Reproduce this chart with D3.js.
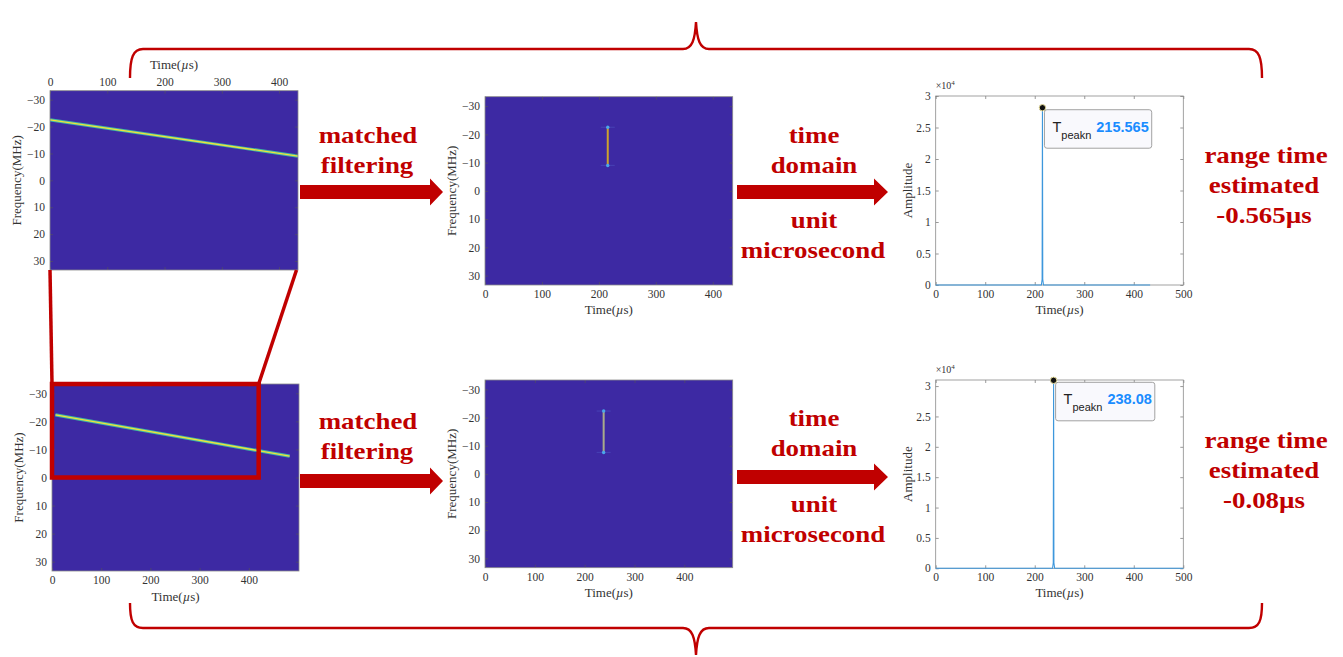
<!DOCTYPE html>
<html>
<head>
<meta charset="utf-8">
<script src="https://cdn.jsdelivr.net/npm/d3@7"></script>
<style>
  body { margin: 0; background: #ffffff; }
  svg { display: block; }
</style>
</head>
<body>
<svg id="fig" width="1343" height="657"></svg>
<script>
// ---------------- data ----------------
// Received chirps (time–frequency): start/end time (µs) and start/end frequency (MHz)
const chirpStart = [0, 7];
const chirpEnd = [433, 483];
const chirpFreqStart = [-22.5, -22.3];
const chirpFreqEnd = [-9, -7.6];
// Time extent of each echo window (µs)
const echoSpan = [433, 502];
// Time extent after matched filtering (µs)
const compressedSpan = [435, 497];
const freqLimits = [-33.33, 33.33];
const freqTicks = [-30, -20, -10, 0, 10, 20, 30];
const spectroTimeTicks = [0, 100, 200, 300, 400];
// Zoom window on the second echo
const zoomWindowTime = [0, 420];
const zoomWindowFreq = [-33.33, 0];

// Time-domain peaks
const peakTimes = [215.565, 238.08];
const peakAmps = [28140, 30950];
const ampLimits = [30000, 31000];
const ampTicks = [0, 5000, 10000, 15000, 20000, 25000, 30000];
const ampTickLabels = ["0", "0.5", "1", "1.5", "2", "2.5", "3"];
const ampTimeTicks = [0, 100, 200, 300, 400, 500];
const ampTimeLimit = 500;
// Compressed pulse envelopes (time µs, amplitude)
const pulseTimes1 = [0, 213.4, 214.9, 215.565, 216.2, 217.7, 433];
const pulseAmps1 = [0, 0, 900, 28140, 900, 0, 0];
const pulseTimes2 = [0, 236.0, 237.4, 238.08, 238.7, 240.2, 500];
const pulseAmps2 = [0, 0, 900, 30950, 900, 0, 0];

// Estimated range-time offsets
const estimates = ["-0.565\u00b5s", "-0.08\u00b5s"];

// ---------------- style ----------------
const RED = "#c00000";
const BG = "#3d29a3";
const SERIF = "'Liberation Serif', 'Times New Roman', serif";
const SANS = "'Liberation Sans', Arial, sans-serif";

const svg = d3.select("#fig");

// ---------------- braces ----------------
const braceTop = d3.path();
braceTop.moveTo(130, 78);
braceTop.bezierCurveTo(130, 58, 133, 49, 143, 49);
braceTop.lineTo(683, 49);
braceTop.bezierCurveTo(692, 49, 695, 40, 696, 22);
braceTop.bezierCurveTo(697, 40, 700, 49, 709, 49);
braceTop.lineTo(1249, 49);
braceTop.bezierCurveTo(1259, 49, 1262, 58, 1262, 78);
svg.append("path").attr("d", braceTop.toString())
  .attr("fill", "none").attr("stroke", RED).attr("stroke-width", 2.4);

const braceBot = d3.path();
braceBot.moveTo(130, 603);
braceBot.bezierCurveTo(130, 621, 133, 628, 143, 628);
braceBot.lineTo(683, 628);
braceBot.bezierCurveTo(692, 628, 695, 637, 696, 655);
braceBot.bezierCurveTo(697, 637, 700, 628, 709, 628);
braceBot.lineTo(1249, 628);
braceBot.bezierCurveTo(1259, 628, 1262, 621, 1262, 603);
svg.append("path").attr("d", braceBot.toString())
  .attr("fill", "none").attr("stroke", RED).attr("stroke-width", 2.4);

// ---------------- helpers ----------------
let clipId = 0;

function styleAxis(sel, fs) {
  sel.select(".domain").remove();
  sel.selectAll("line").attr("stroke", "#555").attr("stroke-width", 0.6);
  sel.selectAll("text").attr("font-family", SERIF).attr("font-size", fs).attr("fill", "#333");
}

function timeLabel(g, cx, cy) {
  const t = g.append("text").attr("x", cx).attr("y", cy)
    .attr("text-anchor", "middle").attr("dominant-baseline", "central")
    .attr("font-family", SERIF).attr("font-size", 13).attr("fill", "#333");
  t.append("tspan").text("Time(");
  t.append("tspan").attr("font-style", "italic").text("\u00b5");
  t.append("tspan").text("s)");
}

function yLabel(g, cx, cy, str) {
  g.append("text").attr("transform", `translate(${cx},${cy}) rotate(-90)`)
    .attr("text-anchor", "middle").attr("dominant-baseline", "central")
    .attr("font-family", SERIF).attr("font-size", 13).attr("fill", "#333").text(str);
}

// MATLAB-like framed axes with inward ticks on every side
function frame(g, x, y, xTicks, yTicks, yFmt, xOnTop) {
  const [l, r] = x.range();
  const [y0, y1] = y.range();
  const t = Math.min(y0, y1), b = Math.max(y0, y1);
  const xb = g.append("g").attr("transform", `translate(0,${b})`)
    .call(d3.axisBottom(x).tickValues(xTicks).tickSizeInner(-3).tickSizeOuter(0).tickPadding(5)
      .tickFormat(xOnTop ? "" : d3.format("d")));
  styleAxis(xb, 11.5);
  const xt = g.append("g").attr("transform", `translate(0,${t})`)
    .call(d3.axisTop(x).tickValues(xTicks).tickSizeInner(-3).tickSizeOuter(0).tickPadding(5)
      .tickFormat(xOnTop ? d3.format("d") : ""));
  styleAxis(xt, 11.5);
  const yl = g.append("g").attr("transform", `translate(${l},0)`)
    .call(d3.axisLeft(y).tickValues(yTicks).tickSizeInner(-3).tickSizeOuter(0).tickPadding(5)
      .tickFormat(yFmt));
  styleAxis(yl, 11.5);
  const yr = g.append("g").attr("transform", `translate(${r},0)`)
    .call(d3.axisRight(y).tickValues(yTicks).tickSizeInner(-3).tickSizeOuter(0).tickFormat(""));
  styleAxis(yr, 11.5);
  g.append("rect").attr("x", l).attr("y", t).attr("width", r - l).attr("height", b - t)
    .attr("fill", "none").attr("stroke", "#8a8a8a").attr("stroke-width", 0.8);
}

function clipFor(g, x, y) {
  const id = "clip" + (clipId++);
  const [l, r] = x.range();
  const [ya, yb] = y.range();
  g.append("clipPath").attr("id", id).append("rect")
    .attr("x", l).attr("y", Math.min(ya, yb)).attr("width", r - l).attr("height", Math.abs(yb - ya));
  return `url(#${id})`;
}

// Spectrogram of a received chirp
function chirpPanel(box, i, xOnTop) {
  const g = svg.append("g");
  const x = d3.scaleLinear().domain([0, echoSpan[i]]).range([box.l, box.r]);
  const y = d3.scaleLinear().domain(freqLimits).range([box.t, box.b]);
  g.append("rect").attr("x", box.l).attr("y", box.t).attr("width", box.r - box.l)
    .attr("height", box.b - box.t).attr("fill", BG);
  const clip = clipFor(g, x, y);
  const pts = [[chirpStart[i], chirpFreqStart[i]], [chirpEnd[i], chirpFreqEnd[i]]];
  const line = d3.line().x(d => x(d[0])).y(d => y(d[1]));
  g.append("path").attr("d", line(pts)).attr("clip-path", clip)
    .attr("stroke", "#3fb8a6").attr("stroke-width", 3.2).attr("fill", "none");
  g.append("path").attr("d", line(pts)).attr("clip-path", clip)
    .attr("stroke", "#f0e23c").attr("stroke-width", 1.3).attr("fill", "none");
  frame(g, x, y, spectroTimeTicks, freqTicks, d3.format("d"), xOnTop);
  yLabel(g, box.l - 34, (box.t + box.b) / 2, "Frequency(MHz)");
  if (xOnTop) {
    timeLabel(g, (box.l + box.r) / 2, box.t - 27);
  } else {
    timeLabel(g, (box.l + box.r) / 2, box.b + 25);
  }
  return { x, y };
}

// Spectrogram after matched filtering
function compressedPanel(box, i, color) {
  const g = svg.append("g");
  const x = d3.scaleLinear().domain([0, compressedSpan[i]]).range([box.l, box.r]);
  const y = d3.scaleLinear().domain(freqLimits).range([box.t, box.b]);
  g.append("rect").attr("x", box.l).attr("y", box.t).attr("width", box.r - box.l)
    .attr("height", box.b - box.t).attr("fill", BG);
  const px = x(peakTimes[i]);
  [chirpFreqStart[i], chirpFreqEnd[i]].forEach(f => {
    g.append("line").attr("x1", px - 7).attr("x2", px + 7).attr("y1", y(f)).attr("y2", y(f))
      .attr("stroke", "#5a6fd6").attr("stroke-width", 1.2).attr("opacity", 0.3);
  });
  g.append("line").attr("x1", px).attr("x2", px)
    .attr("y1", y(chirpFreqStart[i])).attr("y2", y(chirpFreqEnd[i]))
    .attr("stroke", color).attr("stroke-width", 2);
  [chirpFreqStart[i], chirpFreqEnd[i]].forEach(f => {
    g.append("circle").attr("cx", px).attr("cy", y(f)).attr("r", 1.7).attr("fill", "#4aa6ea");
  });
  frame(g, x, y, spectroTimeTicks, freqTicks, d3.format("d"), false);
  yLabel(g, box.l - 34, (box.t + box.b) / 2, "Frequency(MHz)");
  timeLabel(g, (box.l + box.r) / 2, box.b + 24);
}

// Time-domain amplitude with a data tip on the peak
function amplitudePanel(box, i, times, amps) {
  const g = svg.append("g");
  const x = d3.scaleLinear().domain([0, ampTimeLimit]).range([box.l, box.r]);
  const y = d3.scaleLinear().domain([0, ampLimits[i]]).range([box.b, box.t]);
  g.append("rect").attr("x", box.l).attr("y", box.t).attr("width", box.r - box.l)
    .attr("height", box.b - box.t).attr("fill", "#ffffff");
  frame(g, x, y, ampTimeTicks, ampTicks, (d, k) => ampTickLabels[k], false);
  const pts = times.map((t, k) => [t, amps[k]]);
  g.append("path").attr("d", d3.line().x(d => x(d[0])).y(d => y(d[1]))(pts))
    .attr("fill", "none").attr("stroke", "#3d97dc").attr("stroke-width", 1.1);
  yLabel(g, box.l - 28.5, (box.t + box.b) / 2, "Amplitude");
  timeLabel(g, (box.l + box.r) / 2, box.b + 24);
  // exponent note
  const ex = g.append("text").attr("x", box.l).attr("y", box.t - 7)
    .attr("font-family", SERIF).attr("font-size", 10).attr("fill", "#333");
  ex.append("tspan").text("\u00d710");
  ex.append("tspan").attr("font-size", 7).attr("dy", -4).text("4");

  // data tip
  const px = x(peakTimes[i]), py = y(peakAmps[i]);
  const tip = g.append("g");
  const bx = px + 2, by = py + 2, bh = 38.5;
  const rect = tip.append("rect").attr("x", bx).attr("y", by).attr("height", bh)
    .attr("rx", 2.5).attr("fill", "#f9f9fd").attr("stroke", "#a2a2a2").attr("stroke-width", 1);
  const txt = tip.append("text").attr("x", bx + 8).attr("y", by + 22)
    .attr("font-family", SANS).attr("font-size", 14.5).attr("fill", "#222");
  txt.append("tspan").text("T");
  txt.append("tspan").attr("font-size", 11).attr("dy", 7).text("peakn");
  txt.append("tspan").attr("dy", -7).attr("dx", 5).attr("font-weight", "bold")
    .attr("fill", "#1a8cff").text(String(peakTimes[i]));
  const w = txt.node().getComputedTextLength();
  rect.attr("width", w + 16);
  g.append("circle").attr("cx", px).attr("cy", py).attr("r", 3.2)
    .attr("fill", "#111").attr("stroke", "#e6dc9c").attr("stroke-width", 1);
}

// ---------------- panels ----------------
const p1 = { l: 50, r: 298, t: 90.7, b: 270 };
const p2 = { l: 52, r: 299, t: 384, b: 571 };
const p3 = { l: 485, r: 732.7, t: 96.7, b: 285 };
const p4 = { l: 485, r: 732.7, t: 380, b: 567.7 };
const p5 = { l: 935.7, r: 1183.3, t: 96, b: 285 };
const p6 = { l: 935.7, r: 1183.3, t: 380, b: 568.3 };

const s1 = chirpPanel(p1, 0, true);
const s2 = chirpPanel(p2, 1, false);
compressedPanel(p3, 0, "#cda22c");
compressedPanel(p4, 1, "#a9aa8a");
amplitudePanel(p5, 0, pulseTimes1, pulseAmps1);
amplitudePanel(p6, 1, pulseTimes2, pulseAmps2);

// Zoom window on the second echo and its link to the first
const zx0 = s2.x(zoomWindowTime[0]), zx1 = s2.x(zoomWindowTime[1]);
const zy0 = s2.y(zoomWindowFreq[0]), zy1 = s2.y(zoomWindowFreq[1]);
svg.append("rect").attr("x", zx0).attr("y", zy0).attr("width", zx1 - zx0).attr("height", zy1 - zy0)
  .attr("fill", "none").attr("stroke", RED).attr("stroke-width", 4.5);
svg.append("line").attr("x1", s1.x(0)).attr("y1", s1.y(freqLimits[1]))
  .attr("x2", zx0).attr("y2", zy0).attr("stroke", RED).attr("stroke-width", 3.5);
svg.append("line").attr("x1", s1.x(echoSpan[0]) - 1.5).attr("y1", s1.y(freqLimits[1]))
  .attr("x2", zx1).attr("y2", zy0).attr("stroke", RED).attr("stroke-width", 3.5);

// ---------------- arrows and captions ----------------
function arrow(x0, headStart, tip, cy) {
  const p = d3.path();
  p.moveTo(x0, cy - 7); p.lineTo(headStart, cy - 7); p.lineTo(headStart, cy - 13.5);
  p.lineTo(tip, cy); p.lineTo(headStart, cy + 13.5); p.lineTo(headStart, cy + 7);
  p.lineTo(x0, cy + 7); p.closePath();
  svg.append("path").attr("d", p.toString()).attr("fill", RED);
}

function caption(cx, baseline, str) {
  const t = svg.append("text").attr("x", cx).attr("y", baseline).attr("text-anchor", "middle")
    .attr("font-family", SERIF).attr("font-weight", "bold").attr("font-size", 24)
    .attr("fill", RED).text(str);
  const w = t.node().getComputedTextLength();
  t.attr("textLength", w * 1.12).attr("lengthAdjust", "spacingAndGlyphs");
}

arrow(300, 430, 443, 192);
arrow(737, 874, 888, 192);
arrow(300, 430, 443, 481);
arrow(737, 874, 888, 477);

caption(368, 143, "matched");
caption(367, 173, "filtering");
caption(368, 429, "matched");
caption(367, 459, "filtering");

caption(814, 143, "time");
caption(814, 173, "domain");
caption(814, 228, "unit");
caption(813, 258, "microsecond");
caption(814, 426, "time");
caption(814, 456, "domain");
caption(814, 512, "unit");
caption(813, 542, "microsecond");

caption(1266, 163, "range time");
caption(1264, 193, "estimated");
caption(1264, 223, estimates[0]);
caption(1266, 448, "range time");
caption(1264, 478, "estimated");
caption(1264, 508, estimates[1]);
</script>
</body>
</html>
